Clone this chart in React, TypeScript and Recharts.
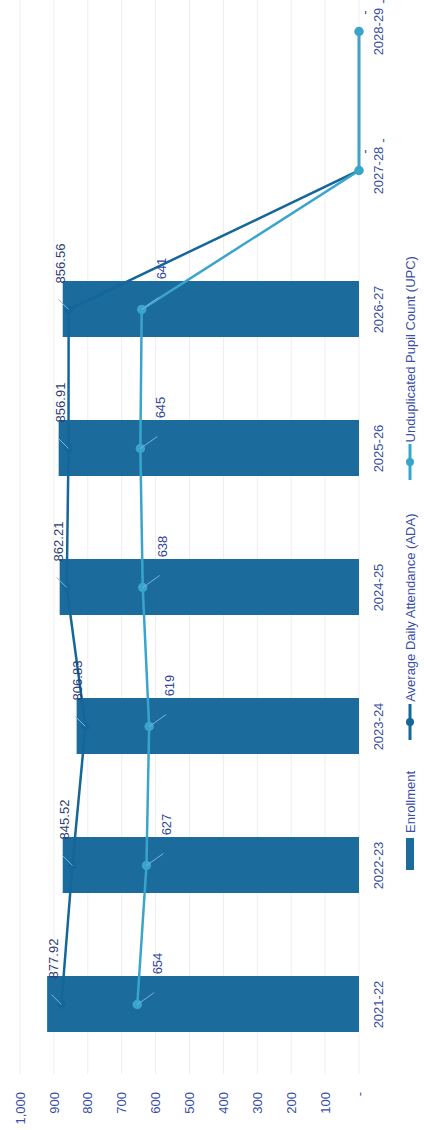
import React from 'react';
import { Bar, CartesianGrid, ComposedChart, LabelList, Line, XAxis, YAxis } from 'recharts';

const years = ['2021-22', '2022-23', '2023-24', '2024-25', '2025-26', '2026-27', '2027-28', '2028-29'];
const enrollment = [920, 874, 833, 883, 886, 874, null, null];
const ada = [877.92, 845.52, 806.83, 862.21, 856.91, 856.56, 0, 0];
const upc = [654, 627, 619, 638, 645, 641, 0, 0];
const valueTicks = [0, 100, 200, 300, 400, 500, 600, 700, 800, 900, 1000];

const FONT = '"Liberation Sans", Arial, sans-serif';
const BAR_COLOR = '#1c6b9d';
const ADA_COLOR = '#156699';
const UPC_COLOR = '#3aa5cc';
const AXIS_TEXT = '#3a4fa5';
const LEADER = '#7fb2d6';

// chart is laid out landscape, then turned a quarter turn to match the scan
const CHART_W = 1180;
const CHART_H = 424;

const chartData = years.map((year, i) => ({
  year,
  enrollment: enrollment[i],
  ada: ada[i],
  upc: upc[i],
}));

const makeLabel = (
  offset: [number, number],
  zeroOffset: [number, number],
  leader: [number, number],
  color: string,
) => (props: any) => {
  const vb = props.viewBox || {};
  const x = props.x ?? vb.x;
  const y = props.y ?? vb.y;
  const value = props.value;
  if (x == null || y == null || value == null) return null;
  const isZero = Number(value) === 0;
  const [dx, dy] = isZero ? zeroOffset : offset;
  return (
    <g>
      {!isZero && (
        <line x1={x} y1={y} x2={x + leader[0]} y2={y + leader[1]} stroke={LEADER} strokeWidth={1} />
      )}
      <text
        x={x + dx}
        y={y + dy}
        textAnchor="middle"
        dominantBaseline="central"
        fill={color}
        fontSize={13}
        fontFamily={FONT}
      >
        {isZero ? '-' : String(value)}
      </text>
    </g>
  );
};

const adaLabel = makeLabel([46, -8], [19, 5], [10, -10], '#2b3d73');
const upcLabel = makeLabel([41, 20], [30, 23], [12, 17], '#30469a');

// drawn as a plain block: recharts measures its legend with getBoundingClientRect,
// which goes wrong inside the rotated wrapper
const ChartLegend = () => (
  <div
    style={{
      position: 'absolute',
      left: 260,
      top: 403,
      display: 'flex',
      alignItems: 'center',
      height: 14,
      fontFamily: FONT,
      fontSize: 13,
      color: AXIS_TEXT,
      whiteSpace: 'nowrap',
    }}
  >
    <span style={{ display: 'inline-block', width: 32, height: 8, background: BAR_COLOR, marginRight: 5 }} />
    <span>Enrollment</span>
    <svg width={36} height={10} style={{ marginLeft: 31 }}>
      <line x1={0} y1={5} x2={36} y2={5} stroke={ADA_COLOR} strokeWidth={3} />
      <circle cx={18} cy={5} r={4} fill={ADA_COLOR} />
    </svg>
    <span style={{ marginLeft: 2 }}>Average Daily Attendance (ADA)</span>
    <svg width={36} height={10} style={{ marginLeft: 33 }}>
      <line x1={0} y1={5} x2={36} y2={5} stroke={UPC_COLOR} strokeWidth={3} />
      <circle cx={18} cy={5} r={4} fill={UPC_COLOR} />
    </svg>
    <span style={{ marginLeft: 2 }}>Unduplicated Pupil Count (UPC)</span>
  </div>
);

export default function App() {
  return (
    <div
      style={{
        position: 'absolute',
        left: 0,
        top: 0,
        width: 424,
        height: 1130,
        overflow: 'hidden',
        background: '#ffffff',
      }}
    >
      <div
        style={{
          position: 'absolute',
          left: 0,
          top: 0,
          width: CHART_W,
          height: CHART_H,
          transformOrigin: '0 0',
          transform: 'translateY(1130px) rotate(-90deg)',
        }}
      >
        <ComposedChart
          width={CHART_W}
          height={CHART_H}
          data={chartData}
          margin={{ top: 20, right: 12, bottom: 35, left: 0 }}
        >
          <CartesianGrid vertical={false} stroke="#eeeeee" />
          <XAxis
            dataKey="year"
            height={30}
            tickLine={false}
            axisLine={false}
            tickMargin={9}
            interval={0}
            tick={{ fill: AXIS_TEXT, fontSize: 13, fontFamily: FONT }}
          />
          <YAxis
            width={56}
            domain={[0, 1000]}
            ticks={valueTicks}
            tickLine={false}
            axisLine={false}
            tickMargin={12}
            tickFormatter={(v: number) => (v === 0 ? '-' : v.toLocaleString('en-US'))}
            tick={{ fill: AXIS_TEXT, fontSize: 13, fontFamily: FONT }}
          />
          <Bar dataKey="enrollment" name="Enrollment" fill={BAR_COLOR} barSize={56} isAnimationActive={false} />
          <Line
            type="linear"
            dataKey="ada"
            name="Average Daily Attendance (ADA)"
            stroke={ADA_COLOR}
            strokeWidth={2.5}
            dot={{ r: 3, fill: ADA_COLOR, stroke: ADA_COLOR }}
            isAnimationActive={false}
          >
            <LabelList dataKey="ada" content={adaLabel} />
          </Line>
          <Line
            type="linear"
            dataKey="upc"
            name="Unduplicated Pupil Count (UPC)"
            stroke={UPC_COLOR}
            strokeWidth={2.5}
            dot={{ r: 3.5, fill: UPC_COLOR, stroke: UPC_COLOR }}
            isAnimationActive={false}
          >
            <LabelList dataKey="upc" content={upcLabel} />
          </Line>
        </ComposedChart>
        <ChartLegend />
      </div>
    </div>
  );
}
